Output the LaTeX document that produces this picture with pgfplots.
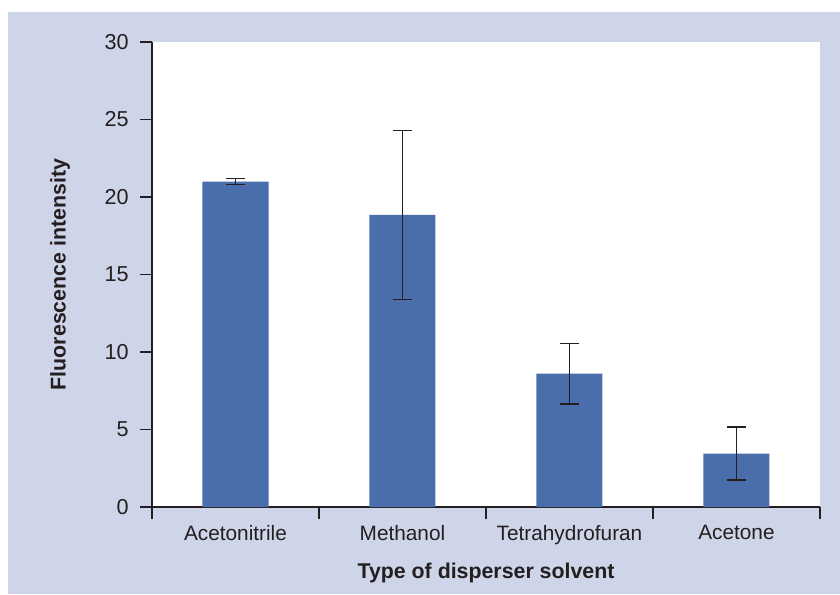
\documentclass[border=0pt]{standalone}
\usepackage{pgfplots}
\pgfplotsset{compat=1.18}
\usepackage{fontspec}
\setmainfont{Liberation Sans}
\definecolor{bg}{RGB}{207,213,232}
\definecolor{barc}{RGB}{74,110,171}
\definecolor{ink}{RGB}{35,31,32}
\begin{document}
\begin{tikzpicture}
\path[use as bounding box] (0,0) rectangle (630pt,445.5pt);
\fill[bg] (6pt,0) rectangle (630pt,436.5pt);
\begin{axis}[
  at={(114pt,65.25pt)}, anchor=south west,
  scale only axis, width=501pt, height=348.75pt,
  xmin=0.5, xmax=4.5, ymin=0, ymax=30,
  axis background/.style={fill=white},
  axis x line*=bottom, axis y line*=left,
  axis line style={ink, line width=1pt},
  xtick={0.5,1.5,2.5,3.5,4.5},
  xticklabels={Acetonitrile,Methanol,Tetrahydrofuran,Acetone,{}},
  xticklabel style={xshift=62.6pt, yshift=-1pt},
  ytick={0,5,...,30},
  yticklabel style={xshift=-5pt, font=\fontsize{16.2}{19}\selectfont},
  tick align=outside, major tick length=9pt,
  tick style={ink, line width=1pt},
  tick label style={font=\fontsize{15.6}{18}\selectfont, text=ink},
  /pgf/number format/assume math mode=true,
  xlabel={\bfseries Type of disperser solvent},
  ylabel={\bfseries Fluorescence intensity},
  label style={font=\fontsize{16}{19}\selectfont, text=ink},
  xlabel style={at={(axis description cs:0.5,-0.1527)}, anchor=base},
  ylabel style={at={(axis description cs:-0.1377,0.5)}, anchor=center},
  clip=false,
]
\addplot[ybar, bar width=49.5pt, fill=barc, draw=none,
  error bars/.cd, y dir=both, y explicit,
  error bar style={ink, line width=1.1pt},
  error mark options={rotate=90, ink, line width=1.1pt, mark size=7pt}]
  coordinates {
    (1,21.0) +- (0,0.2)
    (2,18.85) +- (0,5.45)
    (3,8.6) +- (0,1.95)
    (4,3.45) +- (0,1.7)
  };
\end{axis}
\end{tikzpicture}
\end{document}
